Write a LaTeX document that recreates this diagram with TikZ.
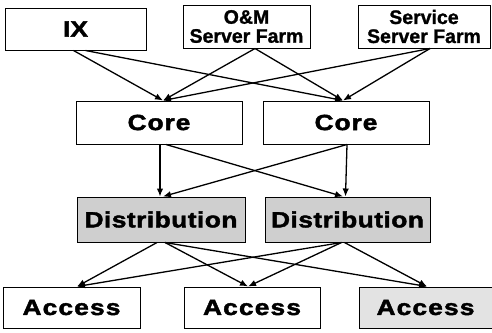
\documentclass[tikz,border=0pt]{standalone}
\usepackage{fontspec}
\setmainfont{Liberation Sans}
\newfontfamily\heavyfont[FakeStretch=1.2,FakeBold=2]{Liberation Sans Bold}
\newfontfamily\labelfont[FakeBold=1.2]{Liberation Sans Bold}
\usetikzlibrary{arrows.meta,calc}
\definecolor{distgray}{gray}{0.81}
\definecolor{accgray}{gray}{0.89}
\tikzset{
  box/.style={draw=black, line width=1pt, rectangle, inner sep=0pt, align=center},
  big/.style={font=\heavyfont\fontsize{22}{22}\selectfont},
  small/.style={font=\labelfont\fontsize{19.5}{19}\selectfont},
  link/.style={line width=1.3pt, -{Latex[length=8pt,width=6.5pt]}}
}
\begin{document}
\begin{tikzpicture}[x=1pt,y=-1pt]
\useasboundingbox (0,0) rectangle (492,332);
% top tier
\node[box,big,minimum width=141pt,minimum height=42pt] (ix) at (75.5,29)
  {IX};
\node[box,small,minimum width=127pt,minimum height=43pt] (om) at (246.5,26.5)
  {O\&M\\Server Farm};
\node[box,small,minimum width=132pt,minimum height=43pt] (svc) at (424,26.5)
  {Service\\Server Farm};
% core tier
\node[box,big,minimum width=166pt,minimum height=43pt] (c1) at (159,122.5)
  {\addfontfeatures{LetterSpace=4}Core};
\node[box,big,minimum width=166pt,minimum height=43pt] (c2) at (346,122.5)
  {\addfontfeatures{LetterSpace=4}Core};
% distribution tier
\node[box,big,fill=distgray,minimum width=168pt,minimum height=45pt] (d1) at (161,219.5)
  {\addfontfeatures{LetterSpace=2}Distribution};
\node[box,big,fill=distgray,minimum width=165pt,minimum height=45pt] (d2) at (347.5,219.5)
  {\addfontfeatures{LetterSpace=2}Distribution};
% access tier
\node[box,big,minimum width=137pt,minimum height=41pt] (a1) at (71.5,307.5)
  {\addfontfeatures{LetterSpace=5}Access};
\node[box,big,minimum width=136pt,minimum height=41pt] (a2) at (252,307.5)
  {\addfontfeatures{LetterSpace=5}Access};
\node[box,big,fill=accgray,minimum width=133pt,minimum height=41pt] (a3) at (425.5,307.5)
  {\addfontfeatures{LetterSpace=5}Access};
% top tier to core
\draw[link] ($(ix.south)+(-2,0)$) -- ($(c1.north)+(4,0)$);
\draw[link] ($(ix.south)+(10,0)$) -- ($(c2.north)+(-3,0)$);
\draw[link] ($(om.south)+(8.5,0)$) -- ($(c1.north)+(4,0)$);
\draw[link] ($(om.south)+(8.5,0)$) -- ($(c2.north)+(-3,0)$);
\draw[link] ($(svc.south)+(6,0)$) -- ($(c1.north)+(4,0)$);
\draw[link] ($(svc.south)+(6,0)$) -- ($(c2.north)+(-3,0)$);
% core to distribution
\draw[link] ($(c1.south)+(1,0)$) -- ($(d1.north)+(-1,0)$);
\draw[link] ($(c1.south)+(7,0)$) -- ($(d2.north)+(-4.5,0)$);
\draw[link] ($(c2.south)+(1,0)$) -- ($(d2.north)+(-2,0)$);
\draw[link] ($(c2.south)+(1,0)$) -- ($(d1.north)+(2,0)$);
% distribution to access
\draw[link] ($(d1.south)+(-4,0)$) -- ($(a1.north)+(5.5,0)$);
\draw[link] ($(d1.south)+(4,0)$) -- ($(a2.north)+(-4,0)$);
\draw[link] ($(d1.south)+(4,0)$) -- ($(a3.north)+(1.5,0)$);
\draw[link] ($(d2.south)+(-6,0)$) -- ($(a1.north)+(5.5,0)$);
\draw[link] ($(d2.south)+(-6,0)$) -- ($(a2.north)+(-4,0)$);
\draw[link] ($(d2.south)+(-3,0)$) -- ($(a3.north)+(1.5,0)$);
\end{tikzpicture}
\end{document}
